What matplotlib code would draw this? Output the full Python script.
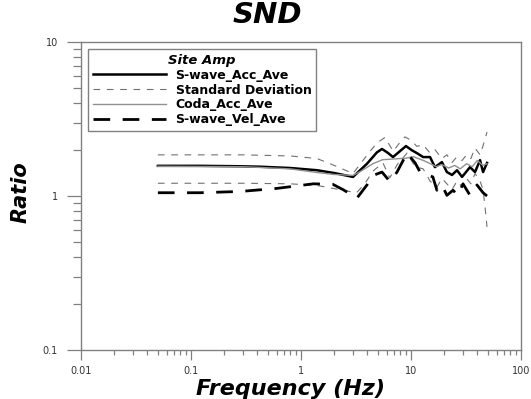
import numpy as np
import matplotlib
matplotlib.use('Agg')
import matplotlib.pyplot as plt
from matplotlib.ticker import LogLocator, FixedLocator, NullFormatter

# --- data ---
acc_f = [0.05, 0.12, 0.28, 0.42, 0.8, 1.4, 2.0, 2.97, 3.98, 4.9, 5.45, 6.2, 6.86, 7.9, 9.0,
         10.2, 11.3, 12.9, 14.9, 16.5, 19.1, 21.2, 23.6, 26.2, 29.1, 34.4, 38.2, 42.4, 45.2, 49.1]
acc_r = [1.57, 1.57, 1.56, 1.55, 1.52, 1.47, 1.41, 1.33, 1.62, 1.92, 2.02, 1.90, 1.79, 1.95, 2.11,
         1.98, 1.90, 1.79, 1.79, 1.54, 1.66, 1.43, 1.37, 1.47, 1.33, 1.54, 1.43, 1.71, 1.43, 1.64]

std_hi_f = [0.05, 0.3, 0.8, 1.4, 2.0, 2.97, 4.0, 4.9, 5.8, 6.9, 8.0, 8.8, 10.0, 11.3, 12.9, 14.9,
            16.5, 19.1, 21.2, 23.6, 26.2, 29.1, 32, 35, 38.2, 42.4, 45, 49.1]
std_hi_r = [1.85, 1.85, 1.82, 1.75, 1.58, 1.40, 1.85, 2.21, 2.40, 1.95, 2.25, 2.42, 2.30, 2.10, 2.15, 1.90,
            2.00, 1.75, 1.85, 1.65, 1.80, 1.70, 1.85, 1.75, 2.05, 1.85, 2.10, 2.60]

std_lo_f = [0.05, 0.3, 0.8, 1.4, 1.72, 2.4, 3.2, 3.8, 4.5, 5.56, 6.4, 7.5, 9.2, 10.9, 12.9, 14.9,
            17.2, 19.1, 21.2, 23.6, 26.2, 29.1, 32, 35, 38.2, 42.4, 45.2, 47.1, 49.1]
std_lo_r = [1.21, 1.21, 1.20, 1.17, 1.14, 1.09, 1.05, 1.20, 1.45, 1.64, 1.31, 1.60, 1.90, 1.55, 1.50, 1.25,
            1.14, 1.30, 1.20, 1.10, 1.25, 1.15, 1.30, 1.20, 1.40, 1.25, 1.10, 0.85, 0.63]

coda_f = [0.05, 0.3, 0.8, 1.4, 2.0, 2.97, 3.5, 4.5, 5.5, 7.0, 9.0, 10.5, 13, 15, 17, 19, 22, 25,
          28, 32, 36, 40, 45, 49]
coda_r = [1.56, 1.55, 1.50, 1.42, 1.38, 1.36, 1.45, 1.62, 1.72, 1.74, 1.76, 1.80, 1.70, 1.62, 1.55,
          1.60, 1.52, 1.58, 1.50, 1.62, 1.55, 1.70, 1.58, 1.62]

vel_f = [0.05, 0.12, 0.28, 0.6, 1.3, 1.95, 2.41, 3.23, 3.98, 4.52, 5.45, 6.44, 7.46, 9.2, 10.9,
         12.1, 15.8, 17.2, 19.1, 21.2, 24.1, 26.7, 29.7, 34.4, 39.8, 45.2, 49.1]
vel_r = [1.05, 1.05, 1.07, 1.12, 1.20, 1.19, 1.10, 0.97, 1.18, 1.36, 1.43, 1.24, 1.43, 1.90, 1.64,
         1.43, 1.33, 1.09, 1.18, 1.01, 1.09, 1.01, 1.20, 1.01, 1.18, 1.05, 1.00]

xticks = [0.01, 0.1, 1, 10, 100]
xtick_labels = ['0.01', '0.1', '1', '10', '100']
yticks = [0.1, 1, 10]
ytick_labels = ['0.1', '1', '10']

plt.rcParams['font.family'] = ['DejaVu Sans']
frame = '#808080'

fig = plt.figure(figsize=(5.31, 3.99), dpi=100)
ax = fig.add_axes([81/531, 1-350/399, 440/531, 308/399])

ax.plot(acc_f, acc_r, color='black', lw=1.8, label='S-wave_Acc_Ave')
ax.plot(std_hi_f, std_hi_r, color='#707070', lw=0.8, dashes=(6, 6), label='Standard Deviation')
ax.plot(std_lo_f, std_lo_r, color='#707070', lw=0.8, dashes=(6, 6))
ax.plot(coda_f, coda_r, color='#909090', lw=1.0, label='Coda_Acc_Ave')
ax.plot(vel_f, vel_r, color='black', lw=2.0, dashes=(6, 4.5), label='S-wave_Vel_Ave')

ax.set_xscale('log')
ax.set_yscale('log')
ax.set_xlim(0.01, 100)
ax.set_ylim(0.1, 10)

ax.xaxis.set_major_locator(FixedLocator(xticks))
ax.set_xticklabels(xtick_labels)
ax.yaxis.set_major_locator(FixedLocator(yticks))
ax.set_yticklabels(ytick_labels)
ax.xaxis.set_minor_locator(LogLocator(base=10, subs=np.arange(2, 10)))
ax.yaxis.set_minor_locator(LogLocator(base=10, subs=np.arange(2, 10)))
ax.xaxis.set_minor_formatter(NullFormatter())
ax.yaxis.set_minor_formatter(NullFormatter())

ax.tick_params(axis='x', which='major', direction='out', length=7.2, width=0.9, color=frame,
               labelsize=7, labelcolor='#333333', pad=4)
ax.tick_params(axis='x', which='minor', direction='out', length=3.6, width=0.9, color=frame)
ax.tick_params(axis='y', which='major', direction='out', length=10, width=0.9, color=frame,
               labelsize=7, labelcolor='#333333', pad=6.5)
ax.tick_params(axis='y', which='minor', direction='out', length=5.8, width=0.9, color=frame)
for s in ax.spines.values():
    s.set_color(frame)
    s.set_linewidth(1.0)

leg = ax.legend(loc='upper left', bbox_to_anchor=(0.016, 0.977), title='Site Amp',
                prop={'weight': 'bold', 'size': 9}, handlelength=5.8, handletextpad=0.8,
                labelspacing=0.14, borderpad=0.4, fancybox=False, framealpha=1,
                edgecolor=frame, borderaxespad=0)
leg.get_title().set_fontweight('bold')
leg.get_title().set_fontstyle('italic')
leg.get_title().set_fontsize(9.5)
leg.get_frame().set_linewidth(1.0)

fig.text(267/531, 1-15/399, 'SND', ha='center', va='center', fontsize=21,
         fontweight='bold', fontstyle='italic')
fig.text(290/531, 1-389/399, 'Frequency (Hz)', ha='center', va='center', fontsize=16,
         fontweight='bold', fontstyle='italic')
fig.text(21/531, 1-192/399, 'Ratio', ha='center', va='center', rotation=90, fontsize=15,
         fontweight='bold', fontstyle='italic')

fig.savefig('out.png', dpi=100)
